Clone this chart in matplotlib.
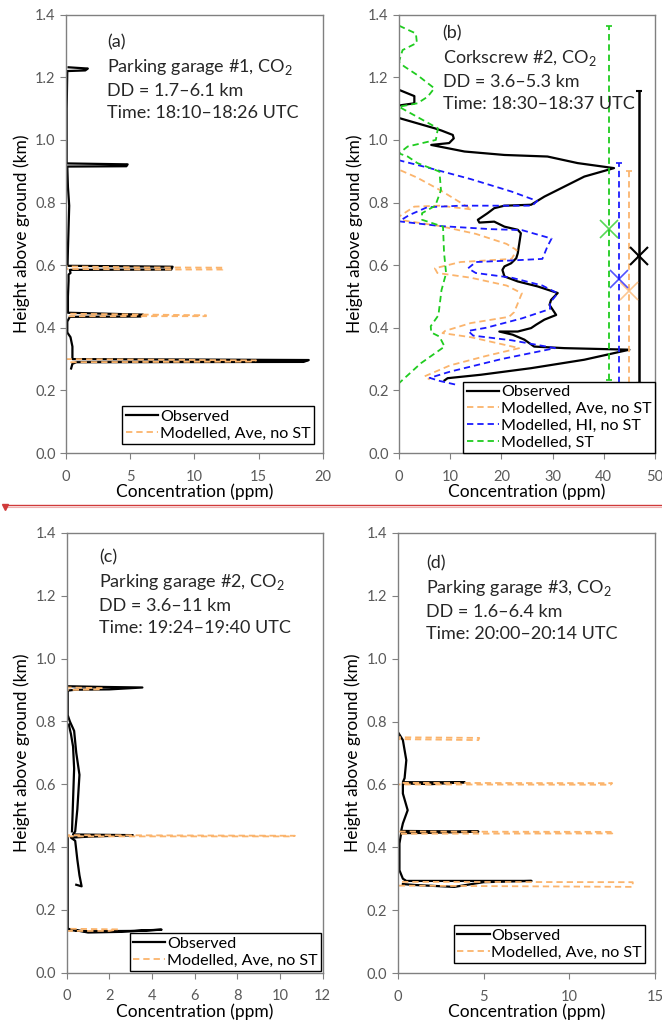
import numpy as np
import matplotlib
matplotlib.use('Agg')
import matplotlib.pyplot as plt
from matplotlib.lines import Line2D

plt.rcParams['font.family'] = ['Lato', 'DejaVu Sans']

nan = np.nan

# ---- panel (a): parking garage #1 ----
a_obs_conc = [0.2, 1.7, 1.5, 0.1, 0.05, 0.05, 4.8, 4.7, 0.1, 0.15, 0.25, 0.2, 0.15, 0.12,
              8.3, 8.2, 0.3, 0.35, 0.2, 0.2, 0.15, 0.15, 6.0, 5.8, 0.3, 0.1, 0.1, 0.35,
              0.5, 0.5, 18.9, 18.5, 0.8, 0.5, 0.4]
a_obs_h = [1.232, 1.228, 1.222, 1.22, 1.1, 0.925, 0.922, 0.916, 0.915, 0.85, 0.79, 0.72, 0.65, 0.598,
           0.595, 0.586, 0.585, 0.575, 0.57, 0.55, 0.50, 0.448, 0.442, 0.436, 0.435, 0.42, 0.385, 0.37,
           0.34, 0.30, 0.297, 0.291, 0.29, 0.285, 0.27]
a_mod_conc = [0, 0, 6, 12.3, 12.2, 6, 0, 0, 10.9, 10.9, 0, 0, 14.8, 14.7, 0, 0]
a_mod_h = [1.235, 0.596, 0.593, 0.592, 0.586, 0.586, 0.588, 0.445, 0.44, 0.437, 0.437, 0.30, 0.296, 0.292,
           0.29, 0.2]

# ---- panel (b): corkscrew #2 ----
b_obs_conc = [0, 3.0, 3.0, 0, 0, 7.0, 8.3, 10.5, 10.7, 9.8, 6.3, 12.8, 20.6, 29, 34.9, 42,
              36.2, 32.3, 28.4, 25.8, 20.6, 18.6, 17.3, 15.4, 15.7, 18.6, 20.6, 23.2, 23.8, 23.5,
              23.2, 22.9, 21.9, 20.6, 20.2, 20.6, 23.2, 27.1, 31, 29.7, 29.4, 30.7, 28.4, 26.8,
              25.8, 23.2, 19.6, 22.2, 24.5, 26.4, 32.3, 45, 36.2, 25.8, 16, 9.5, 8.9]
b_obs_h = [1.16, 1.14, 1.117, 1.11, 1.07, 1.037, 1.03, 1.016, 1.005, 0.99, 0.984, 0.963, 0.952, 0.947,
           0.926, 0.91, 0.883, 0.851, 0.819, 0.793, 0.79, 0.782, 0.766, 0.745, 0.736, 0.739, 0.723,
           0.713, 0.702, 0.67, 0.638, 0.622, 0.606, 0.596, 0.585, 0.564, 0.548, 0.532, 0.511, 0.489,
           0.473, 0.441, 0.426, 0.41, 0.399, 0.388, 0.388, 0.378, 0.362, 0.34, 0.335, 0.33, 0.298,
           0.271, 0.25, 0.239, 0.232]
b_ave_conc = [0, 0, 3.5, 8, 14.2, 8, 3, 0, 0, 8, 15, 21, 23, 22, 12, 7, 7.5, 14, 21, 24, 22.5,
              21.5, 14, 9, 8.5, 14, 23.5, 17, 10, 5, 6]
b_ave_h = [1.36, 0.905, 0.88, 0.84, 0.778, 0.79, 0.787, 0.755, 0.745, 0.725, 0.70, 0.668, 0.648,
           0.62, 0.61, 0.59, 0.575, 0.56, 0.535, 0.51, 0.45, 0.435, 0.415, 0.39, 0.383, 0.37, 0.335,
           0.31, 0.28, 0.245, 0.235]
b_hi_conc = [0, 0, 6, 14, 22, 27, 26, 22, 12, 5.5, 2, 0, 8, 18, 24, 29.8, 29, 28, 22, 15, 13.5,
             15, 22, 28, 31, 29.5, 29.5, 24, 17, 13.5, 14.5, 22, 30.5, 20, 10, 6, 8, 11.2]
b_hi_h = [1.365, 0.935, 0.91, 0.875, 0.835, 0.805, 0.79, 0.79, 0.79, 0.785, 0.76, 0.74, 0.725,
          0.715, 0.712, 0.685, 0.66, 0.62, 0.615, 0.61, 0.59, 0.575, 0.56, 0.535, 0.51, 0.48, 0.46,
          0.43, 0.40, 0.39, 0.375, 0.36, 0.335, 0.30, 0.26, 0.24, 0.23, 0.218]
b_st_conc = [0, 3.3, 3.5, 0.7, 0, 1, 3.6, 6.9, 5.6, 3.6, 0, 2.3, 7.6, 7.2, 1.7, 0, 1.7, 3.6, 7.9,
             8.2, 7.1, 4.5, 4.5, 8.6, 8.8, 9.2, 8.3, 7.7, 6.2, 6.3, 7.9, 8.9, 4.3, 0]
b_st_h = [1.365, 1.34, 1.31, 1.287, 1.25, 1.235, 1.207, 1.165, 1.138, 1.117, 1.106, 1.085, 1.037,
          1.0, 0.979, 0.957, 0.947, 0.926, 0.899, 0.84, 0.79, 0.766, 0.745, 0.723, 0.64, 0.574, 0.52,
          0.44, 0.405, 0.385, 0.372, 0.34, 0.287, 0.223]
# vertical extent summaries: x position, centre height, lower end, upper end
b_bar_x = [46.9, 45, 43, 41]
b_bar_mid = [0.628, 0.516, 0.555, 0.715]
b_bar_low = [0.223, 0.223, 0.223, 0.234]
b_bar_high = [1.155, 0.90, 0.925, 1.364]

# ---- panel (c): parking garage #2 ----
c_obs_conc = [0.05, 1.5, 3.55, 2.0, 0.4, 0.05, 0.05, 0.15, 0.35, 0.45, 0.6, 0.5, 0.4, 0.3, 3.1,
              1.0, 0.2, 0.4, 0.5, 0.6, 0.7, 0.45, nan,
              0.25, 0.3, 0.35, 0.3, 0.2, 0.1, nan,
              0.05, 0.05, 1.0, 2.5, 4.45, 3.0, 1.0, 0.2]
c_obs_h = [0.912, 0.91, 0.908, 0.902, 0.901, 0.898, 0.82, 0.80, 0.77, 0.70, 0.63, 0.52, 0.45, 0.44,
           0.438, 0.433, 0.43, 0.42, 0.36, 0.31, 0.275, 0.28, nan,
           0.45, 0.55, 0.65, 0.72, 0.76, 0.79, nan,
           0.43, 0.14, 0.128, 0.13, 0.137, 0.133, 0.132, 0.135]
c_mod_conc = [0, 0, 1.7, 1.5, 0, 0, 10.7, 10.6, 0, 0, 2.4, 2.0, 0, 0]
c_mod_h = [1.24, 0.908, 0.906, 0.902, 0.9, 0.438, 0.436, 0.434, 0.434, 0.14, 0.138, 0.133, 0.133, 0.125]

# ---- panel (d): parking garage #3 ----
d_obs_conc = [0.05, 0.3, 0.5, 0.4, 0.3, 3.9, 2.0, 0.3, 0.3, 0.58, 0.3, 0.2, 4.7, 2.0, 0.2, 0.1,
              0.1, 0.3, 0.5, 7.8, 5.0, 3.3, 1.0, 0.3]
d_obs_h = [0.763, 0.741, 0.677, 0.62, 0.607, 0.607, 0.601, 0.603, 0.571, 0.518, 0.476, 0.452, 0.45,
           0.446, 0.445, 0.412, 0.327, 0.30, 0.293, 0.293, 0.289, 0.274, 0.28, 0.283]
d_mod_conc = [0, 0, 4.75, 4.7, 0, 0, 12.5, 12.4, 0, 0, 12.6, 12.5, 0, 0, 13.7, 13.7, 0, 0]
d_mod_h = [0.76, 0.75, 0.748, 0.741, 0.744, 0.605, 0.604, 0.599, 0.6, 0.45, 0.449, 0.444, 0.443,
           0.29, 0.289, 0.274, 0.278, 0.275]

c_obs = 'black'
c_ave = '#fbb46c'
c_hi = '#1a1aff'
c_st = '#1fcc1f'
grey = '#808080'

panel_text = [
    '(a)\nParking garage #1, CO$_\\mathregular{2}$\nDD = 1.7–6.1 km\nTime: 18:10–18:26 UTC',
    '(b)\nCorkscrew #2, CO$_\\mathregular{2}$\nDD = 3.6–5.3 km\nTime: 18:30–18:37 UTC',
    '(c)\nParking garage #2, CO$_\\mathregular{2}$\nDD = 3.6–11 km\nTime: 19:24–19:40 UTC',
    '(d)\nParking garage #3, CO$_\\mathregular{2}$\nDD = 1.6–6.4 km\nTime: 20:00–20:14 UTC',
]

fig = plt.figure(figsize=(6.62, 10.21), dpi=100)
ax_a = fig.add_axes([0.0997, 0.5563, 0.388, 0.4293])
ax_b = fig.add_axes([0.6027, 0.5563, 0.3867, 0.4293])
ax_c = fig.add_axes([0.1007, 0.0473, 0.3867, 0.4307])
ax_d = fig.add_axes([0.6008, 0.047, 0.3887, 0.431])

dash = (3.5, 2.2)
leg_kw = dict(loc='lower right', fontsize=11.6, frameon=True, fancybox=False, edgecolor='black',
              handlelength=2.0, handletextpad=0.1, borderpad=0.22, labelspacing=0.15, framealpha=1)


def style(ax, xmax, xstep, txt, tx, ty):
    ax.set_xlim(0, xmax)
    ax.set_ylim(0, 1.4)
    ax.set_xticks(np.arange(0, xmax + 0.1, xstep))
    ax.set_yticks(np.arange(0, 1.41, 0.2))
    ax.yaxis.set_major_formatter(matplotlib.ticker.FormatStrFormatter('%.1f'))
    for s in ax.spines.values():
        s.set_color(grey)
        s.set_linewidth(1.0)
    ax.tick_params(direction='out', length=4, color=grey, labelcolor='#595959', labelsize=10.5)
    ax.tick_params(axis='x', pad=8)
    ax.set_xlabel('Concentration (ppm)', fontsize=12.5, labelpad=0)
    ax.set_ylabel('Height above ground (km)', fontsize=12.5, labelpad=4)
    ax.text(tx, ty, txt, transform=ax.transAxes, ha='left', va='top', fontsize=13,
            linespacing=1.45, color='#262626')


# (a)
ax_a.plot(a_obs_conc, a_obs_h, color=c_obs, lw=1.6, label='Observed')
ax_a.plot(a_mod_conc, a_mod_h, color=c_ave, lw=1.3, dashes=dash, label='Modelled, Ave, no ST')
style(ax_a, 20, 5, panel_text[0], 0.16, 0.956)
ax_a.legend(borderaxespad=0.55, **leg_kw).get_frame().set_linewidth(1.0)

# (b)
ax_b.plot(b_obs_conc, b_obs_h, color=c_obs, lw=1.6)
ax_b.plot(b_ave_conc, b_ave_h, color=c_ave, lw=1.3, dashes=dash)
ax_b.plot(b_hi_conc, b_hi_h, color=c_hi, lw=1.3, dashes=dash)
ax_b.plot(b_st_conc, b_st_h, color=c_st, lw=1.3, dashes=dash)
for i, col in enumerate([c_obs, c_ave, c_hi, c_st]):
    yerr = [[b_bar_mid[i] - b_bar_low[i]], [b_bar_high[i] - b_bar_mid[i]]]
    eb = ax_b.errorbar([b_bar_x[i]], [b_bar_mid[i]], yerr=yerr, fmt='x', color=col,
                       markersize=13, mew=1.2 if i else 1.5, capsize=2.5,
                       elinewidth=1.8 if i == 0 else 1.3, zorder=3)
    if i:
        eb[2][0].set_linestyle((0, dash))
        eb[0].set_alpha(0.75)
style(ax_b, 50, 10, panel_text[1], 0.17, 0.976)
handles_b = [Line2D([], [], color=c_obs, lw=1.6),
             Line2D([], [], color=c_ave, lw=1.3, dashes=dash),
             Line2D([], [], color=c_hi, lw=1.3, dashes=dash),
             Line2D([], [], color=c_st, lw=1.3, dashes=dash)]
labels_b = ['Observed', 'Modelled, Ave, no ST', 'Modelled, HI, no ST', 'Modelled, ST']
ax_b.legend(handles_b, labels_b, borderaxespad=0, **leg_kw).get_frame().set_linewidth(1.0)

# (c)
ax_c.plot(c_obs_conc, c_obs_h, color=c_obs, lw=1.6, label='Observed')
ax_c.plot(c_mod_conc, c_mod_h, color=c_ave, lw=1.3, dashes=dash, label='Modelled, Ave, no ST')
style(ax_c, 12, 2, panel_text[2], 0.127, 0.963)
ax_c.legend(borderaxespad=0.1, **leg_kw).get_frame().set_linewidth(1.0)

# (d)
ax_d.plot(d_obs_conc, d_obs_h, color=c_obs, lw=1.6, label='Observed')
ax_d.plot(d_mod_conc, d_mod_h, color=c_ave, lw=1.3, dashes=dash, label='Modelled, Ave, no ST')
style(ax_d, 15, 5, panel_text[3], 0.11, 0.95)
ax_d.legend(borderaxespad=0.6, **leg_kw).get_frame().set_linewidth(1.0)

# page-break marker between the two rows
fig.add_artist(Line2D([0.008, 1.0], [0.5055, 0.5055], color='#d03a3a', lw=1.0))
fig.add_artist(Line2D([0.008, 1.0], [0.5035, 0.5035], color='#f0b0b0', lw=0.8))
fig.add_artist(Line2D([0.008], [0.5035], marker='v', color='#d03a3a', markersize=5, lw=0))

fig.savefig('out.png', dpi=100)
